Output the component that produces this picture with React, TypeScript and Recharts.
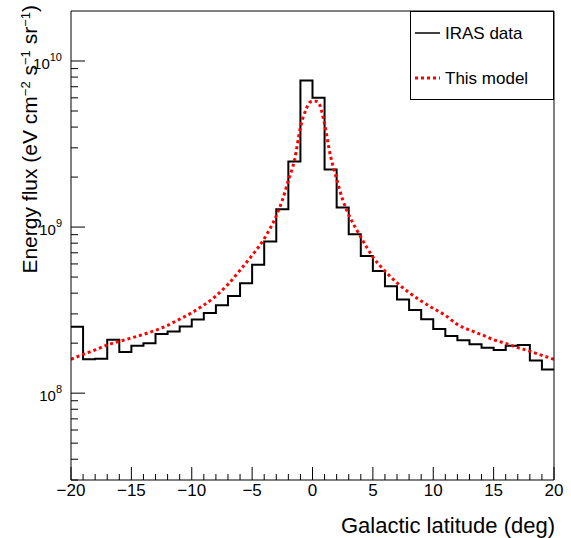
import React from 'react';
import { ComposedChart, Line, XAxis, YAxis } from 'recharts';

// IRAS histogram: left edges of 1-degree bins and the flux in each bin
const binEdges = [
  -20, -19, -18, -17, -16, -15, -14, -13, -12, -11, -10, -9, -8, -7, -6, -5, -4, -3, -2, -1,
  0, 1, 2, 3, 4, 5, 6, 7, 8, 9, 10, 11, 12, 13, 14, 15, 16, 17, 18, 19, 20,
];
const irasFlux = [
  2.51e8, 1.6e8, 1.61e8, 2.1e8, 1.77e8, 1.93e8, 2.0e8, 2.27e8, 2.35e8, 2.52e8,
  2.78e8, 3.04e8, 3.38e8, 3.85e8, 4.59e8, 5.94e8, 8.2e8, 1.28e9, 2.48e9, 7.62e9,
  6.0e9, 2.22e9, 1.31e9, 9.04e8, 6.7e8, 5.44e8, 4.4e8, 3.66e8, 3.17e8, 2.79e8,
  2.43e8, 2.21e8, 2.08e8, 1.97e8, 1.88e8, 1.82e8, 1.93e8, 1.95e8, 1.57e8, 1.39e8,
];

// model curve
const modelLatitude = [
  -20, -19, -18, -17, -16, -15, -14, -13, -12, -11, -10, -9, -8, -7, -6, -5, -4, -3,
  -2.5, -2, -1.5, -1, -0.5, -0.25, 0, 0.25, 0.5, 0.75, 1, 1.5, 2, 2.5,
  3, 4, 5, 6, 7, 8, 9, 10, 11, 12, 13, 14, 15, 16, 17, 18, 19, 20,
];
const modelFlux = [
  1.6e8, 1.71e8, 1.82e8, 1.95e8, 2.05e8, 2.15e8, 2.26e8, 2.39e8, 2.56e8, 2.79e8,
  3.05e8, 3.39e8, 3.85e8, 4.52e8, 5.5e8, 6.76e8, 8.51e8, 1.17e9,
  1.45e9, 1.91e9, 2.51e9, 3.98e9, 5.19e9, 5.62e9, 5.71e9, 5.73e9, 5.62e9, 5.01e9,
  4.17e9, 2.66e9, 1.95e9, 1.46e9,
  1.19e9, 8.71e8, 6.61e8, 5.43e8, 4.62e8, 4.03e8, 3.59e8, 3.24e8, 2.94e8, 2.59e8,
  2.4e8, 2.25e8, 2.1e8, 1.99e8, 1.88e8, 1.79e8, 1.69e8, 1.6e8,
];

const xTicks = [
  -20, -19, -18, -17, -16, -15, -14, -13, -12, -11, -10, -9, -8, -7, -6, -5, -4, -3, -2, -1,
  0, 1, 2, 3, 4, 5, 6, 7, 8, 9, 10, 11, 12, 13, 14, 15, 16, 17, 18, 19, 20,
];
const xLabelValues = [-20, -15, -10, -5, 0, 5, 10, 15, 20];
const yTicks = [
  3e7, 4e7, 5e7, 6e7, 7e7, 8e7, 9e7,
  1e8, 2e8, 3e8, 4e8, 5e8, 6e8, 7e8, 8e8, 9e8,
  1e9, 2e9, 3e9, 4e9, 5e9, 6e9, 7e9, 8e9, 9e9,
  1e10,
];
const yLabelValues = [1e8, 1e9, 1e10];

const histData = binEdges.map((lat, i) => ({
  lat,
  flux: i < irasFlux.length ? irasFlux[i] : irasFlux[irasFlux.length - 1],
}));
const modelData = modelLatitude.map((lat, i) => ({ lat, flux: modelFlux[i] }));

const font = '"Liberation Sans", Arial, Helvetica, sans-serif';

const XTick = (props: any) => {
  const { x, y, payload } = props;
  const v = payload.value;
  const major = xLabelValues.includes(v);
  return (
    <g>
      <line x1={x} x2={x} y1={y} y2={y - (major ? 13 : 6)} stroke="#000" strokeWidth={1} />
      {major && (
        <text x={x} y={y + 16} textAnchor="middle" fontSize={17} fontFamily={font} fill="#000">
          {v < 0 ? `\u2212${-v}` : `${v}`}
        </text>
      )}
    </g>
  );
};

const YTick = (props: any) => {
  const { x, y, payload } = props;
  const v = payload.value;
  const major = yLabelValues.includes(v);
  const exp = Math.round(Math.log10(v));
  return (
    <g>
      <line x1={x} x2={x + (major ? 14 : 7)} y1={y} y2={y} stroke="#000" strokeWidth={1} />
      {major && (
        <text x={x - 9} y={y + 8} textAnchor="end" fontSize={15} fontFamily={font} fill="#000">
          10
          <tspan dy={-8} fontSize={11}>
            {exp}
          </tspan>
        </text>
      )}
    </g>
  );
};

const YTitle = () => (
  <text
    transform="translate(37, 5) rotate(-90)"
    textAnchor="end"
    fontSize={21}
    fontFamily={font}
    fill="#000"
  >
    Energy flux (eV cm
    <tspan dy={-7} fontSize={13}>−2</tspan>
    <tspan dy={7}> s</tspan>
    <tspan dy={-7} fontSize={13}>−1</tspan>
    <tspan dy={7}> sr</tspan>
    <tspan dy={-7} fontSize={13}>−1</tspan>
    <tspan dy={7}>)</tspan>
  </text>
);

export default function App() {
  return (
    <div
      style={{
        position: 'absolute',
        left: 0,
        top: 0,
        width: 571,
        height: 538,
        background: '#fff',
        fontFamily: font,
      }}
    >
      <ComposedChart width={571} height={538} margin={{ top: 11, right: 17, bottom: 0, left: 0 }}>
        <XAxis
          type="number"
          dataKey="lat"
          domain={[-20, 20]}
          ticks={xTicks}
          interval={0}
          tick={<XTick />}
          tickLine={false}
          tickSize={0}
          tickMargin={0}
          height={58}
          axisLine={{ stroke: '#000' }}
          allowDataOverflow
        />
        <YAxis
          type="number"
          scale="log"
          domain={[3e7, 2e10]}
          ticks={yTicks}
          interval={0}
          tick={<YTick />}
          tickLine={false}
          tickSize={0}
          tickMargin={0}
          width={71}
          axisLine={{ stroke: '#000' }}
          allowDataOverflow
        />
        <Line
          data={histData}
          dataKey="flux"
          type="stepAfter"
          stroke="#000"
          strokeWidth={2}
          dot={false}
          isAnimationActive={false}
        />
        <Line
          data={modelData}
          dataKey="flux"
          type="monotone"
          stroke="#ff0000"
          strokeWidth={3}
          strokeDasharray="3 3"
          dot={false}
          isAnimationActive={false}
        />
      </ComposedChart>

      <svg
        width={571}
        height={538}
        style={{ position: 'absolute', left: 0, top: 0, pointerEvents: 'none' }}
      >
        {/* frame top and right */}
        <line x1={71} x2={554} y1={11} y2={11} stroke="#000" strokeWidth={1} />
        <line x1={554} x2={554} y1={11} y2={480} stroke="#000" strokeWidth={1} />
        <YTitle />
        <text x={555} y={533} textAnchor="end" fontSize={22} fontFamily={font} fill="#000">
          Galactic latitude (deg)
        </text>

        {/* legend */}
        <rect x={410.5} y={11.5} width={143} height={88} fill="#fff" stroke="#000" strokeWidth={1} />
        <line x1={415} x2={440} y1={33} y2={33} stroke="#000" strokeWidth={1.5} />
        <text x={445} y={39} fontSize={17} fontFamily={font} fill="#000">
          IRAS data
        </text>
        <line
          x1={415}
          x2={440}
          y1={78}
          y2={78}
          stroke="#ff0000"
          strokeWidth={3}
          strokeDasharray="3 3"
        />
        <text x={445} y={84} fontSize={17} fontFamily={font} fill="#000">
          This model
        </text>
      </svg>
    </div>
  );
}
